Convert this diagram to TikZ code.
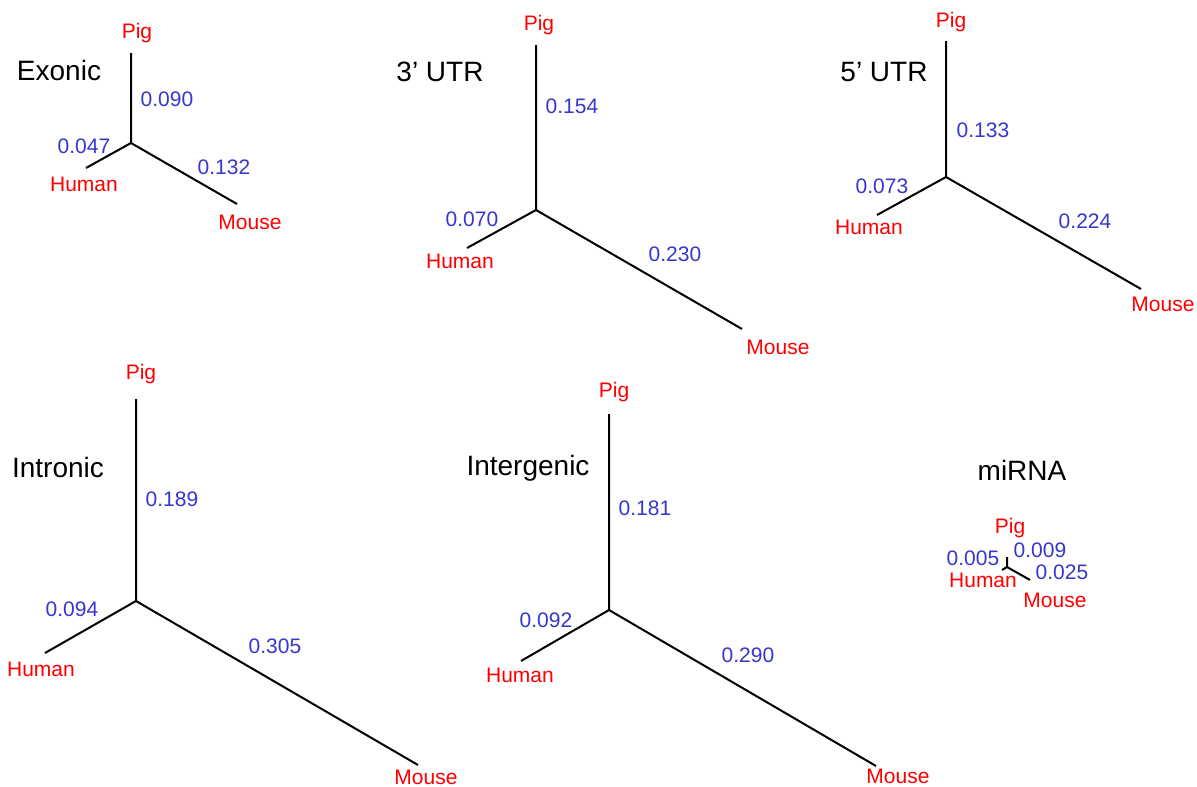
\documentclass[tikz,border=0pt]{standalone}
\usepackage{fontspec}
\setmainfont{Liberation Sans}
\definecolor{taxred}{RGB}{255,0,0}
\definecolor{lenblue}{RGB}{55,55,205}
\begin{document}
\begin{tikzpicture}[x=1pt,y=-1pt,
  branch/.style={line width=2pt,black},
  taxon/.style={inner sep=0pt,text=taxred,font=\fontsize{21}{25}\selectfont},
  blen/.style={inner sep=0pt,text=lenblue,font=\fontsize{21}{25}\selectfont},
  title/.style={inner sep=0pt,text=black,font=\fontsize{28}{32}\selectfont}]
\useasboundingbox[fill=white] (0,0) rectangle (1197,787);

% ---------- Exonic ----------
\coordinate (exC) at (131,143);
\coordinate (exP) at (131,53);
\coordinate (exH) at (86,168);
\coordinate (exM) at (237,204);
\draw[branch] (exP) -- (exC) -- (exH);
\draw[branch] (exC) -- (exM);
\node[title] (exT) at (59,70) {Exonic};
\node[taxon] (exPig) at (137,33) {Pig};
\node[taxon] (exHum) at (84,184) {Human};
\node[taxon] (exMou) at (250,222) {Mouse};
\node[blen] (exLP) at (167,99) {0.090};
\node[blen] (exLH) at (84,146) {0.047};
\node[blen] (exLM) at (224,167) {0.132};

% ---------- 3' UTR ----------
\coordinate (thC) at (536,210);
\coordinate (thP) at (536,45);
\coordinate (thH) at (467,248);
\coordinate (thM) at (742,329);
\draw[branch] (thP) -- (thC) -- (thH);
\draw[branch] (thC) -- (thM);
\node[title] (thT) at (440,72) {3’ UTR};
\node[taxon] (thPig) at (539,25) {Pig};
\node[taxon] (thHum) at (460,261) {Human};
\node[taxon] (thMou) at (778,347) {Mouse};
\node[blen] (thLP) at (572,106) {0.154};
\node[blen] (thLH) at (472,219) {0.070};
\node[blen] (thLM) at (675,254) {0.230};

% ---------- 5' UTR ----------
\coordinate (fiC) at (946,177);
\coordinate (fiP) at (946,41);
\coordinate (fiH) at (877,215);
\coordinate (fiM) at (1141,289);
\draw[branch] (fiP) -- (fiC) -- (fiH);
\draw[branch] (fiC) -- (fiM);
\node[title] (fiT) at (884,72) {5’ UTR};
\node[taxon] (fiPig) at (951,22) {Pig};
\node[taxon] (fiHum) at (869,227) {Human};
\node[taxon] (fiMou) at (1163,304) {Mouse};
\node[blen] (fiLP) at (983,130) {0.133};
\node[blen] (fiLH) at (882,186) {0.073};
\node[blen] (fiLM) at (1085,221) {0.224};

% ---------- Intronic ----------
\coordinate (inC) at (136,601);
\coordinate (inP) at (136,399);
\coordinate (inH) at (45,653);
\coordinate (inM) at (418,765);
\draw[branch] (inP) -- (inC) -- (inH);
\draw[branch] (inC) -- (inM);
\node[title] (inT) at (58,467) {Intronic};
\node[taxon] (inPig) at (141,374) {Pig};
\node[taxon] (inHum) at (41,669) {Human};
\node[taxon] (inMou) at (426,777) {Mouse};
\node[blen] (inLP) at (172,499) {0.189};
\node[blen] (inLH) at (72,609) {0.094};
\node[blen] (inLM) at (275,646) {0.305};

% ---------- Intergenic ----------
\coordinate (igC) at (609,610);
\coordinate (igP) at (609,414);
\coordinate (igH) at (521,661);
\coordinate (igM) at (876,766);
\draw[branch] (igP) -- (igC) -- (igH);
\draw[branch] (igC) -- (igM);
\node[title] (igT) at (528,468) {Intergenic};
\node[taxon] (igPig) at (614,392) {Pig};
\node[taxon] (igHum) at (520,675) {Human};
\node[taxon] (igMou) at (898,776) {Mouse};
\node[blen] (igLP) at (645,508) {0.181};
\node[blen] (igLH) at (546,620) {0.092};
\node[blen] (igLM) at (748,655) {0.290};

% ---------- miRNA ----------
\coordinate (miC) at (1007,567);
\coordinate (miP) at (1007,557);
\coordinate (miH) at (1002,570);
\coordinate (miM) at (1030,580);
\draw[branch] (miP) -- (miC) -- (miH);
\draw[branch] (miC) -- (miM);
\node[title] (miT) at (1022,470) {miRNA};
\node[taxon] (miPig) at (1010,528) {Pig};
\node[taxon] (miHum) at (983,580) {Human};
\node[taxon] (miMou) at (1055,600) {Mouse};
\node[blen] (miLP) at (1040,550) {0.009};
\node[blen] (miLH) at (973,558) {0.005};
\node[blen] (miLM) at (1062,572) {0.025};
\end{tikzpicture}
\end{document}
